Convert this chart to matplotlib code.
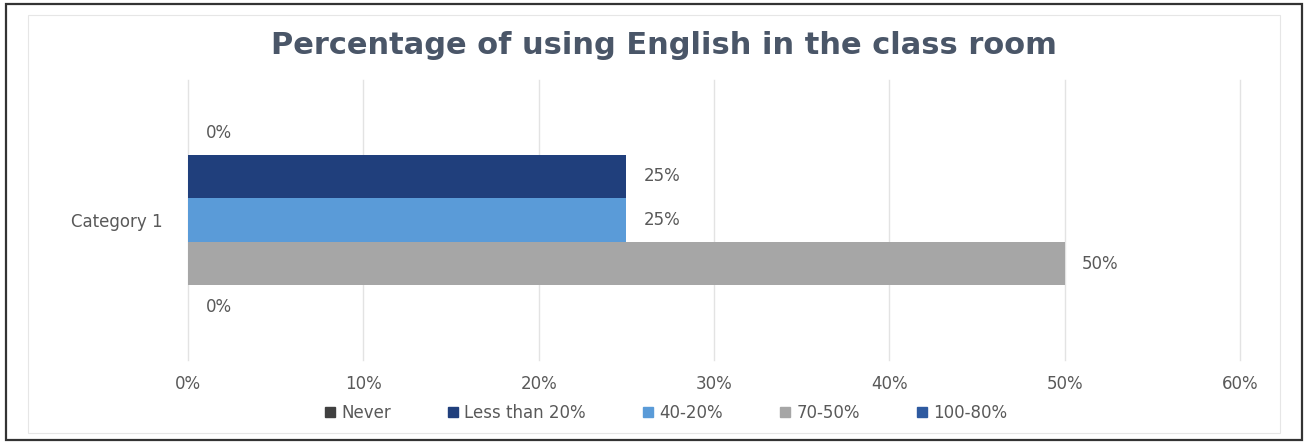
import matplotlib
matplotlib.use("Agg")
import matplotlib.pyplot as plt
from matplotlib.patches import Rectangle
from matplotlib.ticker import FuncFormatter

# 数据
category = "Category 1"
answers = ["Never", "Less than 20%", "40-20%", "70-50%", "100-80%"]
shares = [0, 25, 25, 50, 0]
colors = ["#404040", "#203f7c", "#5a9bd8", "#a6a6a6", "#2e5aa0"]
x_ticks = [0, 10, 20, 30, 40, 50, 60]

TEXT = "#595959"

fig = plt.figure(figsize=(13.06, 4.43), dpi=100)
fig.patch.set_facecolor("white")

# 外框和图表区边框
fig.add_artist(Rectangle((6 / 1306, 3 / 443), 1296 / 1306, 436 / 443,
                         transform=fig.transFigure, fill=False,
                         edgecolor="#333333", linewidth=1.6))
fig.add_artist(Rectangle((28 / 1306, 10 / 443), 1252 / 1306, 418 / 443,
                         transform=fig.transFigure, fill=False,
                         edgecolor="#e6e6e6", linewidth=0.8))

ax = fig.add_axes([188 / 1306, 1 - 360 / 443, 1052 / 1306, 280 / 443])

ypos = list(range(len(answers)))
bars = ax.barh(ypos, shares, height=1.0, color=colors, zorder=3)

for y, v in zip(ypos, shares):
    ax.text(v + 1.0, y, f"{v}%", va="center", ha="left",
            fontsize=12, color=TEXT)

ax.set_xlim(0, 60)
ax.set_ylim(5.21, -1.21)
ax.set_xticks(x_ticks)
ax.xaxis.set_major_formatter(FuncFormatter(lambda v, p: f"{v:.0f}%"))
ax.set_yticks([2])
ax.set_yticklabels([category])
ax.tick_params(axis="both", length=0, labelsize=12, labelcolor=TEXT)
ax.tick_params(axis="x", pad=11)
ax.tick_params(axis="y", pad=18)
ax.grid(axis="x", color="#e3e3e3", linewidth=1, zorder=0)
for line in ax.get_xgridlines():
    line.set_clip_on(False)
for s in ax.spines.values():
    s.set_visible(False)

fig.text(0.508, 1 - 45 / 443, "Percentage of using English in the class room",
         ha="center", va="center", fontsize=22, fontweight="bold",
         color="#4a5668")

handles = [plt.Rectangle((0, 0), 1, 1, color=c) for c in colors]
fig.legend(handles, answers, loc="center", bbox_to_anchor=(0.51, 1 - 413 / 443),
           ncol=5, frameon=False, fontsize=12, labelcolor=TEXT,
           handlelength=0.6, handleheight=0.6, handletextpad=0.4,
           columnspacing=3.4)

fig.savefig("out.png", dpi=100)
